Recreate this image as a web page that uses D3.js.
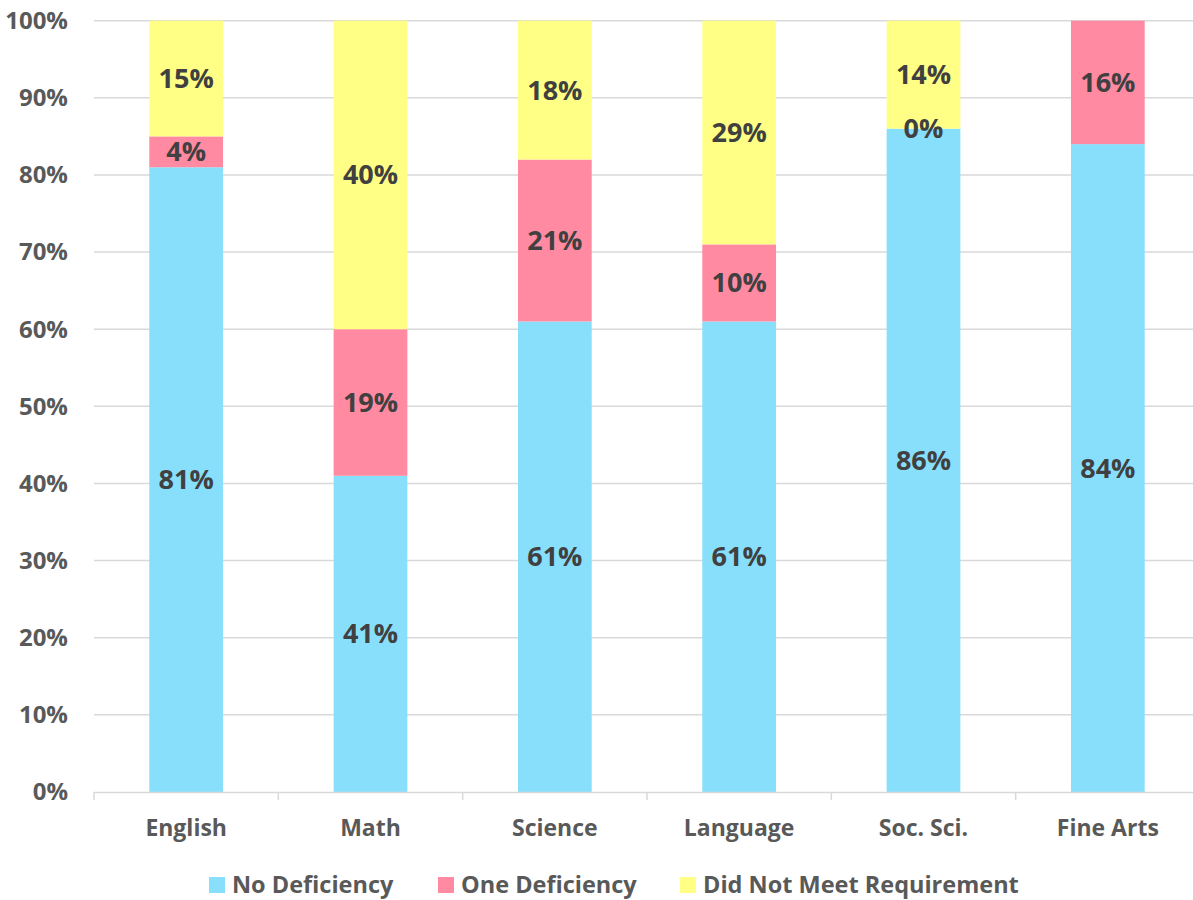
<!DOCTYPE html>
<html>
<head>
<meta charset="utf-8">
<script src="https://cdn.jsdelivr.net/npm/d3@7"></script>
<style>
  body { margin: 0; background: #fff; }
  svg { display: block; font-family: "Open Sans", sans-serif; font-weight: bold; }
</style>
</head>
<body>
<svg id="chart" width="1193" height="900"></svg>
<script>
const subjects = ["English", "Math", "Science", "Language", "Soc. Sci.", "Fine Arts"];
const noDeficiency = [81, 41, 61, 61, 86, 84];
const oneDeficiency = [4, 19, 21, 10, 0, 16];
const didNotMeet = [15, 40, 18, 29, 14, null];
const seriesNames = ["No Deficiency", "One Deficiency", "Did Not Meet Requirement"];
const yTicks = [0, 10, 20, 30, 40, 50, 60, 70, 80, 90, 100];

const colors = ["#88DFFC", "#FF8AA2", "#FFFF85"];

const svg = d3.select('#chart');
const plotLeft = 94, plotRight = 1200, plotTop = 20.7, plotBottom = 792;

const x = d3.scaleBand().domain(subjects).range([plotLeft, plotRight]).paddingInner(0.6).paddingOuter(0.3);
const xb = d3.scaleBand().domain(subjects).range([plotLeft, plotRight]);
const y = d3.scaleLinear().domain([0, 100]).range([plotBottom, plotTop]);

// gridlines
svg.append('g').selectAll('line')
  .data(yTicks.filter(d => d > 0))
  .enter().append('line')
  .attr('x1', plotLeft).attr('x2', 1193)
  .attr('y1', d => y(d)).attr('y2', d => y(d))
  .attr('stroke', '#d9d9d9').attr('stroke-width', 1.5);

// y labels
svg.append('g').selectAll('text')
  .data(yTicks)
  .enter().append('text')
  .attr('x', 68).attr('y', d => y(d))
  .attr('dy', '0.35em')
  .attr('text-anchor', 'end')
  .attr('fill', '#595959')
  .style('font-size', '24px')
  .text(d => d + '%');

// stack
const rows = subjects.map((s, i) => ({
  subject: s,
  vals: [noDeficiency[i], oneDeficiency[i], didNotMeet[i]]
}));

const segs = [];
rows.forEach(r => {
  let base = 0;
  r.vals.forEach((v, k) => {
    if (v === null) return;
    segs.push({ subject: r.subject, k: k, y0: base, y1: base + v, v: v });
    base += v;
  });
});

svg.append('g').selectAll('rect')
  .data(segs)
  .enter().append('rect')
  .attr('x', d => x(d.subject))
  .attr('width', x.bandwidth())
  .attr('y', d => y(d.y1))
  .attr('height', d => y(d.y0) - y(d.y1))
  .attr('fill', d => colors[d.k]);

// x axis
svg.append('line')
  .attr('x1', plotLeft).attr('x2', 1193)
  .attr('y1', plotBottom + 0.5).attr('y2', plotBottom + 0.5)
  .attr('stroke', '#d9d9d9').attr('stroke-width', 1.5);

svg.append('g').selectAll('line')
  .data(subjects)
  .enter().append('line')
  .attr('x1', d => xb(d)).attr('x2', d => xb(d))
  .attr('y1', plotBottom).attr('y2', plotBottom + 8)
  .attr('stroke', '#d9d9d9').attr('stroke-width', 1.5);

svg.append('g').selectAll('text')
  .data(subjects)
  .enter().append('text')
  .attr('x', d => xb(d) + xb.bandwidth() / 2)
  .attr('y', 828).attr('dy', '0.35em')
  .attr('text-anchor', 'middle')
  .attr('fill', '#595959')
  .style('font-size', '23px')
  .text(d => d);

// data labels
svg.append('g').selectAll('text')
  .data(segs)
  .enter().append('text')
  .attr('x', d => x(d.subject) + x.bandwidth() / 2)
  .attr('y', d => y((d.y0 + d.y1) / 2))
  .attr('dy', '0.35em')
  .attr('text-anchor', 'middle')
  .attr('fill', '#404040')
  .style('font-size', '27px')
  .text(d => d.v + '%');

// legend
const legX = [209, 438, 680];
const leg = svg.append('g').selectAll('g')
  .data(seriesNames)
  .enter().append('g')
  .attr('transform', (d, i) => `translate(${legX[i]},877)`);
leg.append('rect').attr('width', 16).attr('height', 16).attr('fill', (d, i) => colors[i]);
leg.append('text')
  .attr('x', 23).attr('y', 8).attr('dy', '0.35em')
  .attr('fill', '#595959')
  .style('font-size', '23.5px')
  .text(d => d);
</script>
</body>
</html>
